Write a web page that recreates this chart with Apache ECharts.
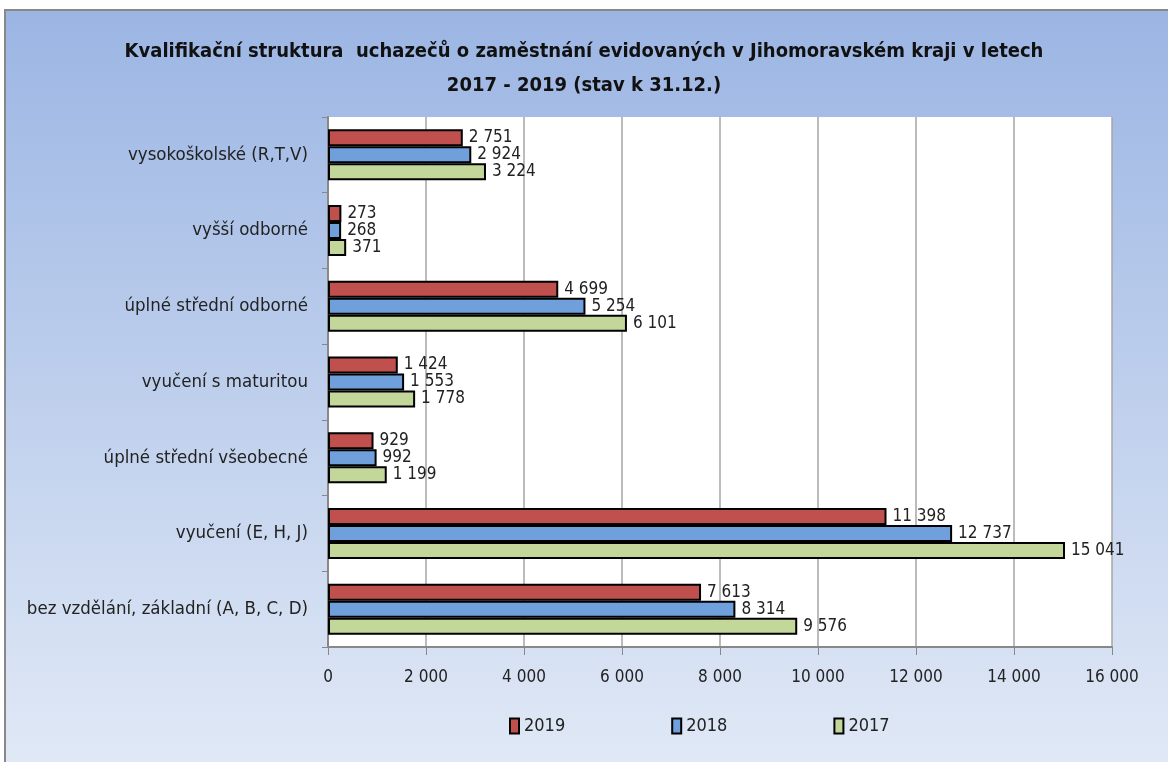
<!DOCTYPE html>
<html><head><meta charset="utf-8">
<script src="https://cdn.jsdelivr.net/npm/echarts@6/dist/echarts.min.js"></script>
<style>html,body{margin:0;padding:0;background:#fff}#c{width:1168px;height:762px}</style>
</head><body><div id="c"></div>
<script>
const categories = ["vysokoškolské (R,T,V)","vyšší odborné","úplné střední odborné","vyučení s maturitou","úplné střední všeobecné","vyučení (E, H, J)","bez vzdělání, základní (A, B, C, D)"];
const v2019 = [2751, 273, 4699, 1424, 929, 11398, 7613];
const v2018 = [2924, 268, 5254, 1553, 992, 12737, 8314];
const v2017 = [3224, 371, 6101, 1778, 1199, 15041, 9576];
const seriesNames = ["2019","2018","2017"];
const colors = ["#C0504D","#6FA0DC","#C4D79B"];
const FONT = "'Liberation Sans Narrow','DejaVu Sans Condensed','Open Sans',sans-serif";
const fmt = v => String(v).replace(/\B(?=(\d{3})+(?!\d))/g, ' ');
const chart = echarts.init(document.getElementById('c'));
const mk = (name, data, color) => ({
  name, type: 'bar', data, barWidth: 17, barGap: '0%',
  itemStyle: {color, borderColor: '#000', borderWidth: 2},
  label: {show: true, position: 'right', distance: 6, formatter: p => fmt(p.value), color: '#222', fontSize: 17, fontFamily: FONT}
});
chart.setOption({
  animation: false,
  graphic: [{type: 'rect', z: -10, shape: {x: 5, y: 10, width: 1170, height: 760},
    style: {fill: new echarts.graphic.LinearGradient(0,0,0,1,[{offset:0,color:'#9BB5E3'},{offset:1,color:'#E1E9F6'}]), stroke: '#888', lineWidth: 2}}],
  title: {text: 'Kvalifikační struktura  uchazečů o zaměstnání evidovaných v Jihomoravském kraji v letech\n2017 - 2019 (stav k 31.12.)',
    left: 'center', top: 30, textStyle: {fontFamily: FONT, fontWeight: 'bold', fontSize: 20, lineHeight: 34, color: '#111'}},
  legend: {bottom: 22, left: 504, itemGap: 106, itemWidth: 9, itemHeight: 15, icon: 'rect',
    textStyle: {fontFamily: FONT, fontSize: 18, color: '#222'}, data: seriesNames},
  grid: {left: 328, right: 56, top: 117, bottom: 115, backgroundColor: '#fff', show: true, borderWidth: 0},
  xAxis: {type: 'value', min: 0, max: 16000, interval: 2000,
    axisLine: {show: true, lineStyle: {color: '#888', width: 2}},
    axisTick: {show: true, length: 8, lineStyle: {color: '#888'}},
    axisLabel: {formatter: fmt, fontFamily: FONT, fontSize: 17, color: '#222', margin: 22},
    splitLine: {lineStyle: {color: '#A6A6A6', width: 1.5}}},
  yAxis: {type: 'category', data: categories, inverse: true,
    axisLine: {show: true, lineStyle: {color: '#888', width: 2}},
    axisTick: {show: true, length: 6, lineStyle: {color: '#888'}},
    axisLabel: {fontFamily: FONT, fontSize: 18.5, color: '#222', margin: 20}},
  series: [mk(seriesNames[0], v2019, colors[0]), mk(seriesNames[1], v2018, colors[1]), mk(seriesNames[2], v2017, colors[2])]
});
</script></body></html>
